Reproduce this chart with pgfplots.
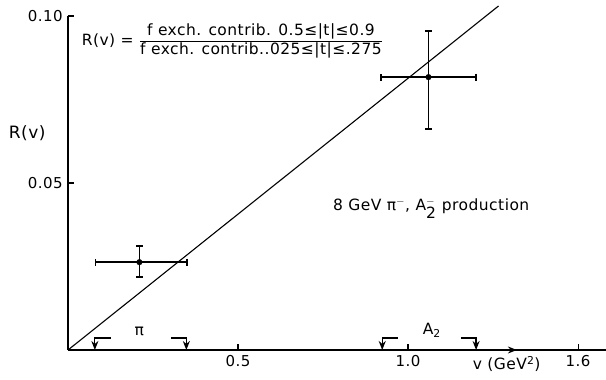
\documentclass[border=0pt]{standalone}
\usepackage{pgfplots}
\pgfplotsset{compat=1.18}
\usepackage{fontspec}
\setmainfont[LetterSpace=3]{DejaVu Sans}
\usetikzlibrary{arrows.meta}

\begin{document}
\fontsize{15.5}{18}\selectfont
\begin{tikzpicture}
\useasboundingbox (-68pt,-30pt) rectangle (538pt,350pt);
\begin{axis}[
  scale only axis, width=538pt, height=334pt,
  xmin=0, xmax=1.582, ymin=0, ymax=0.10,
  axis lines=left, axis line style={-, line width=1.5pt},
  tick align=inside, major tick length=6pt,
  tick style={line width=1.2pt, black},
  xtick={0.5,1.0,1.5}, xticklabels={0.5,1.0,1.6},
  ytick={0.05,0.10}, yticklabels={0.05,0.10},
  ticklabel style={font=\fontsize{15}{17}\selectfont},
  /pgf/number format/assume math mode=true,
  clip=false,
]
% data points with errors
\addplot[black, only marks, mark=*, mark size=2.8pt,
  error bars/.cd, x dir=both, y dir=both, x explicit, y explicit,
  error bar style={line width=1.4pt},
  error mark options={rotate=90, mark size=3.5pt, line width=1.3pt}]
coordinates {
  (0.21,0.0263) += (0.14,0.0048) -= (0.13,0.0044)
  (1.06,0.0817) += (0.14,0.0138) -= (0.14,0.0155)
};
% straight line through origin
\addplot[black, line width=1.1pt, no marks] coordinates {(0,0) (1.266,0.103)};
% brackets for pi and A2 ranges
\addplot[black, line width=1.2pt, -{Stealth[length=9pt,width=7pt]}] coordinates {(0.125,0.0036) (0.079,0.0036) (0.079,0)};
\addplot[black, line width=1.2pt, -{Stealth[length=9pt,width=7pt]}] coordinates {(0.303,0.0036) (0.348,0.0036) (0.348,0)};
\addplot[black, line width=1.2pt, -{Stealth[length=9pt,width=7pt]}] coordinates {(0.97,0.0036) (0.924,0.0036) (0.924,0)};
\addplot[black, line width=1.2pt, -{Stealth[length=9pt,width=7pt]}] coordinates {(1.155,0.0036) (1.2,0.0036) (1.2,0)};
\node at (axis cs:0.21,0.0055) {π};
\node at (axis cs:1.07,0.0058) {A\textsubscript{2}};
\draw[line width=1.2pt, -{Stealth[length=9pt,width=7pt]}] (axis cs:1.22,0) -- (axis cs:1.32,0);
\node at (axis cs:1.29,-0.0042) {v (GeV\textsuperscript{2})};
\node at (axis cs:-0.12,0.065) {\fontsize{17}{19}\selectfont R(v)};
\node[anchor=west, inner sep=0pt] at (axis cs:0.04,0.0925) {R(v) = $\displaystyle\frac{\hbox{f exch. contrib. 0.5≤|t|≤0.9}}{\hbox{f exch. contrib..025≤|t|≤.275}}$};
\node at (axis cs:1.068,0.0425) {8 GeV π$^{-}$, A$_{\textrm{2}}^{-}$ production};
\end{axis}
\end{tikzpicture}
\end{document}
